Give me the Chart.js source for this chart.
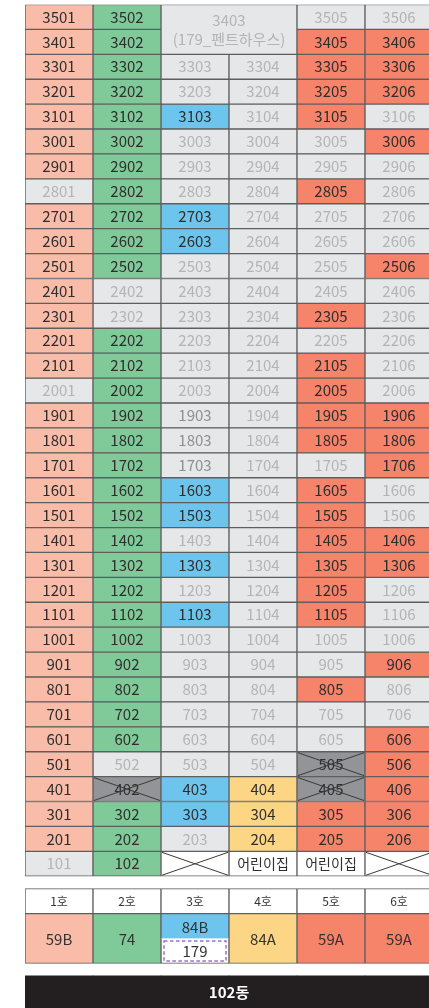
<!DOCTYPE html>
<html>
<head>
<meta charset="utf-8">
<script src="https://cdn.jsdelivr.net/npm/chart.js@4.4.1/dist/chart.umd.min.js"></script>
<style>
  html, body { margin: 0; padding: 0; background: #ffffff; overflow: hidden; width: 429px; height: 1008px; }
  #wrap { position: relative; width: 429px; height: 1008px; overflow: hidden; }
  canvas { display: block; }
</style>
</head>
<body>
<div id="wrap"><canvas id="c" width="440" height="1008"></canvas></div>
<script>
// ---------- DATA ----------
const columns = ['1호', '2호', '3호', '4호', '5호', '6호'];
const floors = [35, 34, 33, 32, 31, 30, 29, 28, 27, 26, 25, 24, 23, 22, 21, 20, 19, 18,
                17, 16, 15, 14, 13, 12, 11, 10, 9, 8, 7, 6, 5, 4, 3, 2, 1];
// one status letter per column, floors 35 -> 1
// P=59B, G=74, B=84B, Y=84A, R=59A, E=not offered, X=excluded, W=no unit, K=daycare, M=merged penthouse
const floorStatus = [
  'PGMMEE', 'PGMMRR', 'PGEERR', 'PGEERR', 'PGBERE', 'PGEEER', 'PGEEEE', 'EGEERE',
  'PGBEEE', 'PGBEEE', 'PGEEER', 'PEEEEE', 'PEEERE', 'PGEEEE', 'PGEERE', 'EGEERE',
  'PGEERR', 'PGEERR', 'PGEEER', 'PGBERE', 'PGBERE', 'PGEERR', 'PGBERR', 'PGEERE',
  'PGBERE', 'PGEEEE', 'PGEEER', 'PGEERE', 'PGEEEE', 'PGEEER', 'PEEEXR', 'PXBYXR',
  'PGBYRR', 'PGEYRR', 'EGWKKW'
];
const dimUnits = ['1903', '1803', '1703'];
const mergedCols = ['3호', '4호'];
const mergedFloors = [34, 35];
const mergedText = ['3403', '(179_펜트하우스)'];
const daycareText = '어린이집';
const typeLabels = ['59B', '74', '84B', '84A', '59A', '59A'];
const typeStatus = ['P', 'G', 'B', 'Y', 'R', 'R'];
const penthouseType = '179';
const buildingName = '102동';

// ---------- STYLE ----------
const fills = {
  P: '#F9BCA9', G: '#80CA9A', B: '#6DC5EE', Y: '#FDD685', R: '#F5846A',
  E: '#E6E7E9', X: '#939497', W: '#FFFFFF', K: '#FFFFFF', M: '#E6E7E9', H: '#FFFFFF', L: '#231F20'
};
const gridLine = '#5E5E5E';
const FONT = "'Noto Sans CJK KR', 'Noto Sans', sans-serif";

// ---------- BUILD DATASETS ----------
const groups = {};
floorStatus.forEach((row, r) => {
  const f = floors[r];
  row.split('').forEach((code, c) => {
    if (code === 'M') return;
    (groups[code] = groups[code] || []).push({
      x: columns[c], y: [f - 1, f],
      text: code === 'K' ? daycareText : (code === 'W' ? '' : String(f * 100 + c + 1)),
      kind: code
    });
  });
});
const datasets = [];
Object.keys(groups).forEach(code => {
  datasets.push({ label: code, data: groups[code], backgroundColor: fills[code] });
});
// merged penthouse cell (two columns x two floors)
datasets.push({
  label: 'M',
  data: mergedCols.map((col, i) => ({
    x: col, y: [Math.min(...mergedFloors) - 1, Math.max(...mergedFloors)],
    text: i === 0 ? 'merged' : '', kind: 'M'
  })),
  backgroundColor: fills.M,
  borderWidth: ctx => ctx.raw && ctx.raw.x === mergedCols[0]
    ? { top: 1, bottom: 1, left: 1, right: 0 } : { top: 1, bottom: 1, left: 0, right: 1 }
});
// legend header row
datasets.push({
  label: 'H',
  data: columns.map(col => ({ x: col, y: [-1.5, -0.5], text: col, kind: 'H' })),
  backgroundColor: fills.H
});
// legend type row
const typeTop = [], typeBottom = [];
columns.forEach((col, i) => {
  if (typeStatus[i] === 'B') {
    typeTop.push({ x: col, y: [-2.5, -1.5], text: typeLabels[i], kind: 'T', code: 'B' });
    typeBottom.push({ x: col, y: [-3.5, -2.5], text: penthouseType, kind: 'D', code: 'H' });
  } else {
    typeTop.push({ x: col, y: [-3.5, -1.5], text: typeLabels[i], kind: 'T', code: typeStatus[i] });
  }
});
datasets.push({
  label: 'T', data: typeTop,
  backgroundColor: ctx => ctx.raw ? fills[ctx.raw.code] : '#fff',
  borderWidth: ctx => ctx.raw && ctx.raw.code === 'B' ? { top: 1, left: 1, right: 1, bottom: 0 } : 1
});
datasets.push({
  label: 'D', data: typeBottom, backgroundColor: '#FFFFFF',
  borderWidth: { top: 0, left: 1, right: 1, bottom: 1 }
});
// building name bar
datasets.push({
  label: 'L',
  data: columns.map((col, i) => ({ x: col, y: [-7, -4], text: i === 0 ? buildingName : '', kind: 'L' })),
  backgroundColor: fills.L, borderWidth: 0
});

// ---------- LABEL PLUGIN ----------
const labelPlugin = {
  id: 'cellLabels',
  afterDatasetsDraw(chart) {
    const ctx = chart.ctx;
    const area = chart.chartArea;
    ctx.save();
    chart.data.datasets.forEach((ds, di) => {
      const meta = chart.getDatasetMeta(di);
      meta.data.forEach((el, j) => {
        const raw = ds.data[j];
        const p = el.getProps(['x', 'y', 'base', 'width'], true);
        const left = p.x - p.width / 2, right = p.x + p.width / 2;
        const top = Math.min(p.y, p.base), bottom = Math.max(p.y, p.base);
        const cx = p.x, cy = (top + bottom) / 2;
        ctx.textAlign = 'center';
        ctx.textBaseline = 'middle';
        const k = raw.kind;
        if (k === 'M') {
          if (raw.text === 'merged') {
            const mx = right; // boundary between the two merged columns
            ctx.fillStyle = '#B4B4B4';
            ctx.font = '15px ' + FONT;
            ctx.fillText(mergedText[0], mx, cy - 9.5);
            ctx.fillText(mergedText[1], mx, cy + 9.5);
          }
          return;
        }
        if (k === 'L') {
          if (raw.text) {
            ctx.fillStyle = '#FFFFFF';
            ctx.font = 'bold 15px ' + FONT;
            const barTop = top;
            const mid = (area.left + Math.min(area.right, 429)) / 2 + 2;
            ctx.fillText(raw.text, (area.left + area.right) / 2, barTop + 16);
          }
          return;
        }
        if (k === 'H') {
          ctx.fillStyle = '#333333';
          ctx.font = '12px ' + FONT;
          ctx.fillText(raw.text, cx, cy);
          return;
        }
        if (k === 'T') {
          ctx.fillStyle = '#333333';
          ctx.font = '15px ' + FONT;
          ctx.fillText(raw.text, cx, cy + 1);
          return;
        }
        if (k === 'D') {
          ctx.strokeStyle = '#9B6FC9';
          ctx.lineWidth = 1.5;
          ctx.setLineDash([3.5, 2.5]);
          ctx.strokeRect(left + 3, top + 2.5, p.width - 6, bottom - top - 5);
          ctx.setLineDash([]);
          ctx.fillStyle = '#333333';
          ctx.font = '15px ' + FONT;
          ctx.fillText(raw.text, cx, cy);
          return;
        }
        // grid cells
        if (raw.text) {
          if (k === 'E') ctx.fillStyle = dimUnits.includes(raw.text) ? '#8E8E8E' : '#B4B4B4';
          else ctx.fillStyle = '#2E2E2E';
          ctx.font = (k === 'K' ? '14px ' : '15px ') + FONT;
          ctx.fillText(raw.text, cx, cy);
        }
        if (k === 'X' || k === 'W') {
          ctx.strokeStyle = '#3A3A3A';
          ctx.lineWidth = 1;
          ctx.beginPath();
          ctx.moveTo(left + 1, top + 1); ctx.lineTo(right - 1, bottom - 1);
          ctx.moveTo(right - 1, top + 1); ctx.lineTo(left + 1, bottom - 1);
          ctx.stroke();
        }
      });
    });
    ctx.restore();
  }
};

// ---------- CHART ----------
new Chart(document.getElementById('c'), {
  type: 'bar',
  data: { labels: columns, datasets },
  options: {
    responsive: false,
    animation: false,
    events: [],
    layout: { padding: { left: 25, right: 7, top: 4.5, bottom: 0 } },
    datasets: {
      bar: {
        grouped: false,
        categoryPercentage: 1,
        barPercentage: 1,
        borderColor: gridLine,
        borderWidth: 1,
        borderSkipped: false
      }
    },
    scales: {
      x: { display: false, offset: true, grid: { display: false } },
      y: { display: false, min: -5.29, max: 35, grid: { display: false } }
    },
    plugins: { legend: { display: false }, tooltip: { enabled: false } }
  },
  plugins: [labelPlugin]
});
</script>
</body>
</html>
